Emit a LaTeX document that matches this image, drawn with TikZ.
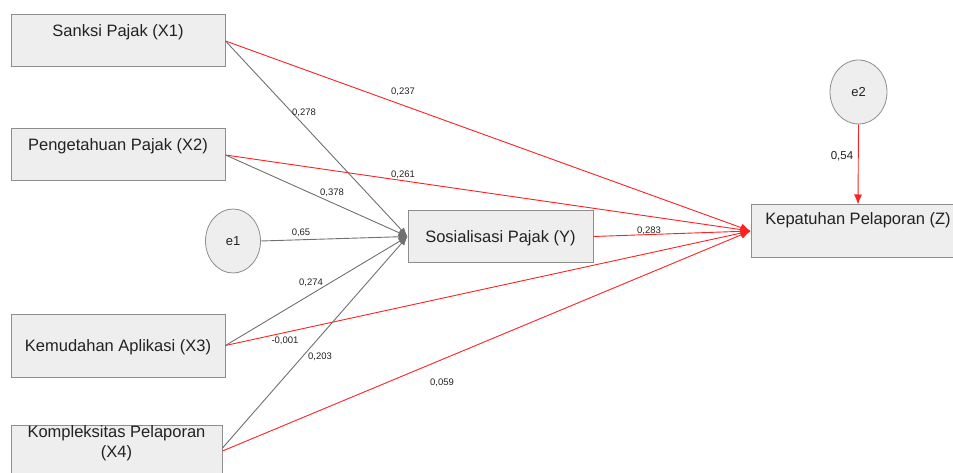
\documentclass[tikz,border=0pt]{standalone}
\usepackage{fontspec}
\setmainfont{Liberation Sans}
\usetikzlibrary{arrows.meta,shapes.geometric}
\definecolor{boxfill}{HTML}{EEEEEE}
\definecolor{boxline}{HTML}{8E8E8E}
\definecolor{txt}{HTML}{222222}
\definecolor{gline}{HTML}{707070}
\definecolor{rline}{HTML}{FF2020}
\tikzset{
  x=1pt, y=-1pt,
  varbox/.style={draw=boxline, fill=boxfill, line width=1pt, rectangle, inner sep=0pt},
  errell/.style={draw=boxline, fill=boxfill, line width=0.8pt, ellipse, inner sep=0pt,
     minimum width=55pt, minimum height=64pt, text=txt, font=\fontsize{13}{15}\selectfont},
  boxtxt/.style={text=txt, inner sep=0pt, align=center, font=\fontsize{16.5}{20}\selectfont},
  coef/.style={text=txt, inner sep=0pt, font=\fontsize{9.5}{11}\selectfont},
  garr/.style={draw=gline, line width=0.9pt, -{Latex[length=9pt,width=7pt]}},
  rarr/.style={draw=rline, line width=0.9pt, -{Latex[length=10pt,width=8pt]}},
}
\begin{document}
\begin{tikzpicture}
\useasboundingbox (0,0) rectangle (953,473);
\begin{scope}
\clip (0,0) rectangle (953,473);
% boxes
\node[varbox, minimum width=214pt, minimum height=52pt] (x1) at (118,41) {};
\node[varbox, minimum width=214pt, minimum height=52pt] (x2) at (118,155) {};
\node[varbox, minimum width=214pt, minimum height=63pt] (x3) at (118,345.5) {};
\node[varbox, minimum width=211pt, minimum height=52pt] (x4) at (116.5,451) {};
\node[varbox, minimum width=185pt, minimum height=51pt] (y) at (500.5,236.5) {};
\node[varbox, minimum width=214pt, minimum height=52pt] (z) at (858,231) {};
\node[errell] (e1) at (233,241) {e1};
\node[errell, minimum width=57pt] (e2) at (858.5,92) {e2};
% box texts
\node[boxtxt] (t1) at (118,32) {Sanksi Pajak (X1)};
\node[boxtxt] (t2) at (118,146) {Pengetahuan Pajak (X2)};
\node[boxtxt] (t3) at (118,347) {Kemudahan Aplikasi (X3)};
\node[boxtxt] (t4) at (116.5,443) {Kompleksitas Pelaporan\\(X4)};
\node[boxtxt] (ty) at (500.5,238) {Sosialisasi Pajak (Y)};
\node[boxtxt] (tz) at (858,220) {Kepatuhan Pelaporan (Z)};
% red paths to Z
\draw[rarr] (x1.east) -- (z.west);
\draw[rarr] (x2.east) -- (z.west);
\draw[rarr] (x3.east) -- (z.west);
\draw[rarr] (x4.east) -- (z.west);
\draw[rarr] (y.east) -- (z.west);
\draw[rarr] (e2.south) -- (z.north);
% gray paths to Y
\draw[garr] (x1.east) -- (y.west);
\draw[garr] (x2.east) -- (y.west);
\draw[garr] (e1.east) -- (y.west);
\draw[garr] (x3.east) -- (y.west);
\draw[garr] ([yshift=3pt]x4.east) -- (y.west);
% coefficients
\node[coef] (c1) at (304,113) {0,278};
\node[coef] (c2) at (403,92) {0,237};
\node[coef] (c3) at (403,175) {0,261};
\node[coef] (c4) at (332,193) {0,378};
\node[coef] (c5) at (301,233) {0,65};
\node[coef] (c6) at (311,283) {0,274};
\node[coef] (c7) at (285,341) {-0,001};
\node[coef] (c8) at (320,357) {0,203};
\node[coef] (c9) at (442,383) {0,059};
\node[coef] (c10) at (649,231) {0,283};
\node[coef, font=\fontsize{11.5}{13}\selectfont] (c11) at (842,156) {0,54};
\end{scope}
\end{tikzpicture}
\end{document}
